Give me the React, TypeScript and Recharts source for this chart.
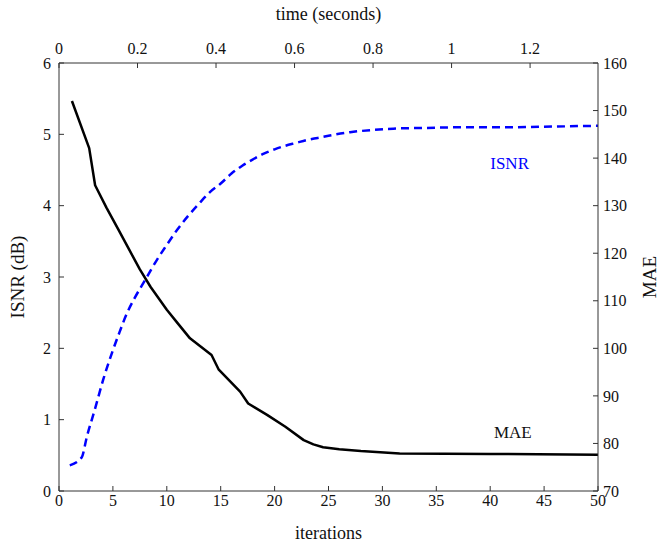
import { LineChart, Line, XAxis, YAxis, ReferenceDot, Label } from "recharts";

// ISNR (dB), dashed blue, left axis
const isnrIter = [1.0, 2.1, 2.6, 3.3, 4.1, 4.9, 5.6, 6.3, 7, 8, 9, 10, 11, 12, 13, 14, 15, 16, 17, 18, 19, 20, 21, 22, 23, 24, 25, 27, 29, 31, 34, 38, 42, 46, 50];
const isnrVal = [0.36, 0.47, 0.77, 1.13, 1.56, 1.93, 2.22, 2.49, 2.7, 2.96, 3.22, 3.45, 3.67, 3.86, 4.03, 4.19, 4.31, 4.45, 4.56, 4.65, 4.73, 4.79, 4.84, 4.88, 4.92, 4.95, 4.98, 5.03, 5.06, 5.08, 5.09, 5.1, 5.1, 5.11, 5.12];

// MAE, solid black, right axis
const maeIter = [1.2, 2.8, 3.35, 4.4, 5.5, 6.5, 7.5, 8.5, 10, 11, 12.15, 14.15, 14.8, 16.8, 17.55, 19.3, 21, 22.7, 23.6, 24.5, 26, 28, 31.6, 40, 50];
const maeVal = [152.0, 142.1, 134.3, 129.6, 125.0, 120.8, 116.6, 112.9, 108.1, 105.3, 102.1, 98.6, 95.6, 90.9, 88.4, 86.0, 83.5, 80.7, 79.8, 79.2, 78.8, 78.4, 77.9, 77.8, 77.6];

const iterTicks = [0, 5, 10, 15, 20, 25, 30, 35, 40, 45, 50];
const timeTicks = [0, 0.2, 0.4, 0.6, 0.8, 1, 1.2];
const timeMax = 1.373;
const isnrTicks = [0, 1, 2, 3, 4, 5, 6];
const maeTicks = [70, 80, 90, 100, 110, 120, 130, 140, 150, 160];

const isnrData = isnrIter.map((it, i) => ({ it, isnr: isnrVal[i] }));
const maeData = maeIter.map((it, i) => ({ it, mae: maeVal[i] }));
// empty series, only so the top time axis gets its scale
const timeData = [0, timeMax].map((time) => ({ time, none: null }));

const font = "'Liberation Serif', 'Times New Roman', serif";
const axisColor = "#333";
const tickStyle = { fill: "#111", fontSize: 16, fontFamily: font };
const xLabelStyle = { fill: "#111", fontSize: 18, fontFamily: font };
const yLabelStyle = { fill: "#111", fontSize: 19, fontFamily: font, textAnchor: "middle" as const };

export default function App() {
  return (
    <div style={{ position: "absolute", left: 0, top: 0, width: 660, height: 542, background: "#fff" }}>
      <LineChart width={660} height={542} margin={{ top: 0, right: 0, bottom: 0, left: 0 }}>
        <XAxis
          xAxisId="bottom"
          type="number"
          dataKey="it"
          domain={[0, 50]}
          ticks={iterTicks}
          height={51}
          tickSize={-5}
          tickMargin={9}
          stroke={axisColor}
          tick={tickStyle}
          allowDataOverflow
        >
          <Label value="iterations" position="insideBottom" offset={3} style={xLabelStyle} />
        </XAxis>
        <XAxis
          xAxisId="top"
          orientation="top"
          type="number"
          dataKey="time"
          domain={[0, timeMax]}
          ticks={timeTicks}
          height={63}
          tickSize={-5}
          tickMargin={14}
          stroke={axisColor}
          tick={tickStyle}
          allowDataOverflow
        >
          <Label value="time (seconds)" position="insideTop" offset={7} style={xLabelStyle} />
        </XAxis>
        <YAxis
          yAxisId="left"
          type="number"
          domain={[0, 6]}
          ticks={isnrTicks}
          width={59}
          tickSize={-5}
          tickMargin={13}
          stroke={axisColor}
          tick={tickStyle}
          allowDataOverflow
        >
          <Label value="ISNR (dB)" angle={-90} position="insideLeft" offset={17} style={yLabelStyle} />
        </YAxis>
        <YAxis
          yAxisId="right"
          orientation="right"
          type="number"
          domain={[70, 160]}
          ticks={maeTicks}
          width={62}
          tickSize={-5}
          tickMargin={10}
          stroke={axisColor}
          tick={tickStyle}
          allowDataOverflow
        >
          <Label value="MAE" angle={-90} position="insideRight" offset={11} style={yLabelStyle} />
        </YAxis>
        <Line
          data={timeData}
          xAxisId="top"
          yAxisId="left"
          dataKey="none"
          stroke="none"
          dot={false}
          activeDot={false}
          legendType="none"
          isAnimationActive={false}
        />
        <Line
          data={isnrData}
          xAxisId="bottom"
          yAxisId="left"
          dataKey="isnr"
          type="monotone"
          stroke="#0000ff"
          strokeWidth={2.5}
          strokeDasharray="8 5"
          dot={false}
          isAnimationActive={false}
        />
        <Line
          data={maeData}
          xAxisId="bottom"
          yAxisId="right"
          dataKey="mae"
          type="linear"
          stroke="#000"
          strokeWidth={2.5}
          strokeLinejoin="round"
          dot={false}
          isAnimationActive={false}
        />
        <ReferenceDot
          xAxisId="bottom"
          yAxisId="left"
          x={41.8}
          y={4.6}
          r={0}
          label={{ value: "ISNR", position: "center", fill: "#0000ff", fontSize: 17, fontFamily: font }}
        />
        <ReferenceDot
          xAxisId="bottom"
          yAxisId="right"
          x={42.1}
          y={82.4}
          r={0}
          label={{ value: "MAE", position: "center", fill: "#111", fontSize: 17, fontFamily: font }}
        />
      </LineChart>
    </div>
  );
}
